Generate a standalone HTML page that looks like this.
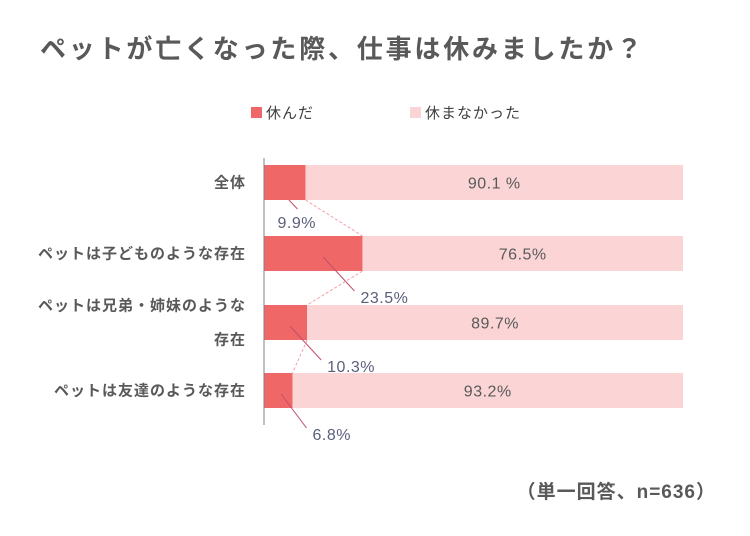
<!DOCTYPE html>
<html><head><meta charset="utf-8"><style>
body{margin:0;background:#fff;width:750px;height:531px;overflow:hidden;font-family:"Liberation Sans","Noto Sans CJK JP",sans-serif}
</style></head><body>
<svg width="750" height="531" font-family="'Liberation Sans','Noto Sans CJK JP',sans-serif">
<text x="40" y="58" font-size="26" font-weight="bold" fill="#595959" letter-spacing="2.8">ペットが亡くなった際、仕事は休みましたか？</text>
<rect x="251" y="107" width="11" height="11" fill="#f06767"/>
<text x="266" y="118" font-size="15" fill="#404040" letter-spacing="1">休んだ</text>
<rect x="410" y="107" width="11" height="11" fill="#fbd5d5"/>
<text x="425" y="118" font-size="15" fill="#404040" letter-spacing="1">休まなかった</text>
<g id="plot"></g>
<line x1="264" y1="158" x2="264" y2="425" stroke="#808080" stroke-width="1"/>
<text x="716" y="498" font-size="19" font-weight="bold" fill="#595959" text-anchor="end" letter-spacing="1">（単一回答、n=636）</text>
</svg>
<script>
const categories=[["全体"],["ペットは子どものような存在"],["ペットは兄弟・姉妹のような","存在"],["ペットは友達のような存在"]];
const rested=[9.9,23.5,10.3,6.8];
const notRested=[90.1,76.5,89.7,93.2];
const NS="http://www.w3.org/2000/svg";
const g=document.getElementById('plot');
const x0=264,W=419,rowTop=[165,236,305,373],bh=35;
const xs=v=>x0+v/100*W;
function mk(t,a,parent){const e=document.createElementNS(NS,t);for(const k in a)e.setAttribute(k,a[k]);(parent||g).appendChild(e);return e;}
categories.forEach((c,i)=>{
  const y=rowTop[i];
  const tot=rested[i]+notRested[i];
  const r1=mk('rect',{x:x0,y:y,width:xs(rested[i])-x0,height:bh,fill:'#f06767'});
  
  
  const r2=mk('rect',{x:xs(rested[i]),y:y,width:xs(tot)-xs(rested[i]),height:bh,fill:'#fbd5d5'});
  
  
  const t2=mk('text',{x:(xs(rested[i])+xs(tot))/2,y:y+bh/2+6,'font-size':16,fill:'#595959','text-anchor':'middle','letter-spacing':0.5});
  t2.textContent=notRested[i].toFixed(1)+(i==0?' %':'%');
  
  
  const mid=x0+(xs(rested[i])-x0)*0.6;
  const lx1=mid,ly1=y+bh*0.6+(i==0?0.4*bh:0),lx2=xs(rested[i])+(i==0?-8:(i==1?-8:14)),ly2=y+bh+(i==0?9:20);
  const ln=mk('line',{x1:lx1,y1:ly1,x2:lx2,y2:ly2,stroke:'#c0506a','stroke-width':1});
  
  
  const t1=mk('text',{x:lx2-(i==0?20:-6),y:ly2+(i==0?19:12),'font-size':16,fill:'#5a5f7a','letter-spacing':0.5});
  t1.textContent=rested[i].toFixed(1)+'%';
  
  
  if(i<categories.length-1){
    const d=mk('line',{x1:xs(rested[i]),y1:y+bh,x2:xs(rested[i+1]),y2:rowTop[i+1],stroke:'#f4a0a8','stroke-width':1,'stroke-dasharray':'3,2'});
    
    
  }
  const lines=c.length;
  c.forEach((s,j)=>{
    const tt=mk('text',{x:246,y:y+bh/2+5+(j-(lines-1)/2)*34,'font-size':15,'font-weight':'bold',fill:'#595959','text-anchor':'end','letter-spacing':1});
    tt.textContent=s;
    
    
  });
});
</script>
</body></html>
